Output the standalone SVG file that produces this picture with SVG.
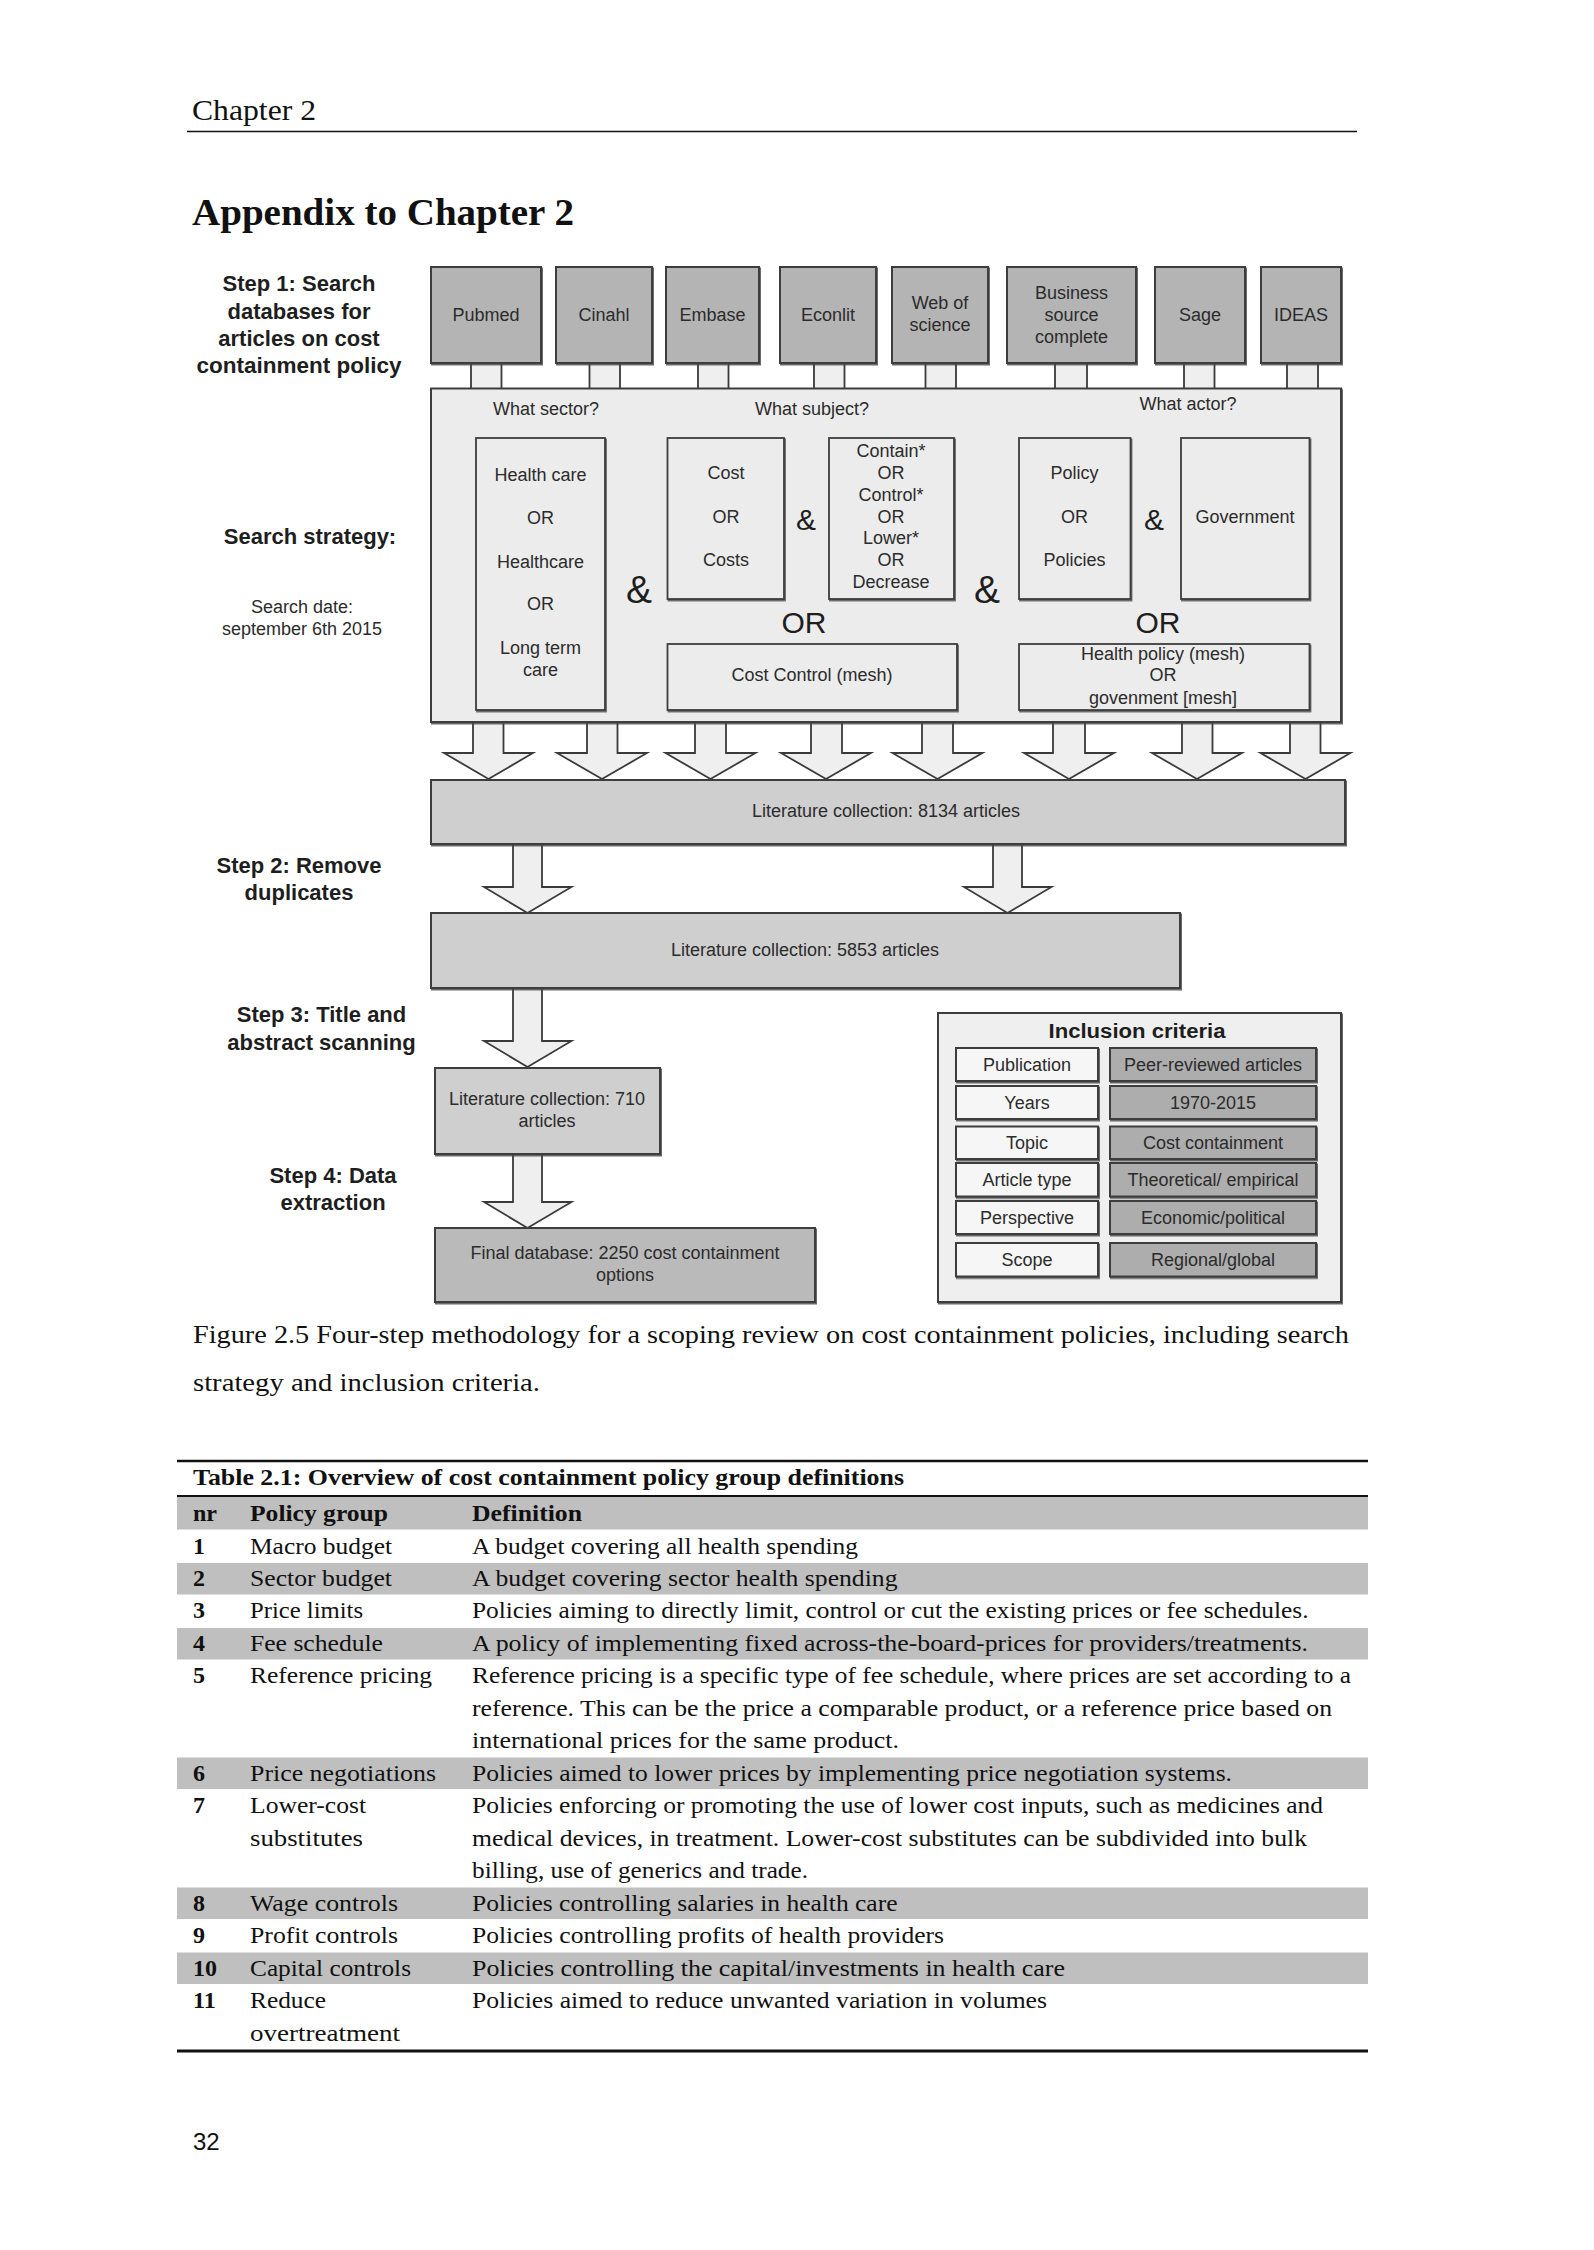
<svg xmlns="http://www.w3.org/2000/svg" width="1594" height="2250" viewBox="0 0 1594 2250">
<defs>
<filter id="sh" x="-5%" y="-5%" width="110%" height="115%">
<feDropShadow dx="1" dy="1.5" stdDeviation="0.6" flood-color="#444" flood-opacity="0.8"/>
</filter>
</defs>
<style>
.db{fill:#b4b4b4;stroke:#3e3e3e;stroke-width:2;filter:url(#sh)}
.pane{fill:#ececec;stroke:#3e3e3e;stroke-width:2;filter:url(#sh)}
.inner{fill:#ececec;stroke:#3e3e3e;stroke-width:1.8;filter:url(#sh)}
.lit{fill:#cfcfcf;stroke:#3e3e3e;stroke-width:2;filter:url(#sh)}
.final{fill:#bababa;stroke:#3e3e3e;stroke-width:2;filter:url(#sh)}
.incl{fill:#efefef;stroke:#3e3e3e;stroke-width:2;filter:url(#sh)}
.cl{fill:#f6f6f6;stroke:#3e3e3e;stroke-width:2;filter:url(#sh)}
.cr{fill:#adadad;stroke:#3e3e3e;stroke-width:2;filter:url(#sh)}
.arr{fill:#efefef;stroke:#3a3a3a;stroke-width:1.8;stroke-linejoin:miter}
.t{font-family:"Liberation Sans",Arial,sans-serif;font-size:18px;fill:#2b2b2b;text-anchor:middle}
.big{font-family:"Liberation Sans",Arial,sans-serif;fill:#1e1e1e;text-anchor:middle}
.lb{font-family:"Liberation Sans",Arial,sans-serif;font-size:22px;font-weight:bold;fill:#1e1e1e;text-anchor:middle}
.s{font-family:"Liberation Serif","Times New Roman",serif;fill:#111}
.tb{font-family:"Liberation Serif","Times New Roman",serif;font-size:24px;fill:#111}
.tbb{font-family:"Liberation Serif","Times New Roman",serif;font-size:24px;fill:#111;font-weight:bold}
.band{fill:#bfbfbf}
.rule{stroke:#111;fill:none}
</style>

<!-- page header -->
<text class="s" x="192" y="120" font-size="30" textLength="124" lengthAdjust="spacingAndGlyphs">Chapter 2</text>
<line class="rule" x1="187" y1="131.5" x2="1357" y2="131.5" stroke-width="1.6"/>
<text class="s" x="192" y="225" font-size="38" font-weight="bold" textLength="382" lengthAdjust="spacingAndGlyphs">Appendix to Chapter 2</text>

<!-- connectors -->
<g id="connectors">
<rect class="arr" x="471" y="360" width="30.5" height="30"/>
<rect class="arr" x="589.5" y="360" width="30.5" height="30"/>
<rect class="arr" x="698" y="360" width="30.5" height="30"/>
<rect class="arr" x="814" y="360" width="30.5" height="30"/>
<rect class="arr" x="925.5" y="360" width="30.5" height="30"/>
<rect class="arr" x="1055" y="360" width="32" height="30"/>
<rect class="arr" x="1184" y="360" width="30.5" height="30"/>
<rect class="arr" x="1287" y="360" width="31" height="30"/>

<polygon class="arr" points="473,718 473,753 444,753 488.5,779 533,753 503.5,753 503.5,718"/>
<polygon class="arr" points="587,718 587,753 557,753 602,779 647,753 617.5,753 617.5,718"/>
<polygon class="arr" points="695,718 695,753 665.5,753 710.5,779 755.5,753 726,753 726,718"/>
<polygon class="arr" points="811,718 811,753 781,753 826,779 871,753 842,753 842,718"/>
<polygon class="arr" points="922,718 922,753 892.5,753 937.5,779 982.5,753 953,753 953,718"/>
<polygon class="arr" points="1053,718 1053,753 1024,753 1069,779 1114,753 1085,753 1085,718"/>
<polygon class="arr" points="1182,718 1182,753 1152,753 1197,779 1242,753 1212.5,753 1212.5,718"/>
<polygon class="arr" points="1290,718 1290,753 1260.5,753 1305.5,779 1350.5,753 1320.5,753 1320.5,718"/>

<polygon class="arr" points="513,842 513,887 484,887 527.5,913 571.5,887 542,887 542,842"/>
<polygon class="arr" points="993,842 993,887 964,887 1007.5,913 1051.5,887 1022,887 1022,842"/>
<polygon class="arr" points="513,986 513,1041 484,1041 527.5,1067 571.5,1041 542,1041 542,986"/>
<polygon class="arr" points="513,1152 513,1202 484,1202 527.5,1228 571.5,1202 542,1202 542,1152"/>
</g>

<!-- step labels -->
<g id="labels">
<text class="lb" x="299" y="291">Step 1: Search</text>
<text class="lb" x="299" y="318.5">databases for</text>
<text class="lb" x="299" y="345.5">articles on cost</text>
<text class="lb" x="299" y="372.5" textLength="205" lengthAdjust="spacingAndGlyphs">containment policy</text>
<text class="lb" x="310" y="543.5">Search strategy:</text>
<text class="t" x="302" y="613">Search date:</text>
<text class="t" x="302" y="635">september 6th 2015</text>
<text class="lb" x="299" y="872.5">Step 2: Remove</text>
<text class="lb" x="299" y="899.5">duplicates</text>
<text class="lb" x="321.5" y="1022">Step 3: Title and</text>
<text class="lb" x="321.5" y="1049.5">abstract scanning</text>
<text class="lb" x="333" y="1183">Step 4: Data</text>
<text class="lb" x="333" y="1210">extraction</text>
</g>

<!-- database nodes -->
<g id="db-pubmed"><rect class="db" x="431" y="267" width="110" height="96"/><text class="t" x="486" y="321">Pubmed</text></g>
<g id="db-cinahl"><rect class="db" x="556" y="267" width="96" height="96"/><text class="t" x="604" y="321">Cinahl</text></g>
<g id="db-embase"><rect class="db" x="666" y="267" width="93" height="96"/><text class="t" x="712.5" y="321">Embase</text></g>
<g id="db-econlit"><rect class="db" x="780" y="267" width="96" height="96"/><text class="t" x="828" y="321">Econlit</text></g>
<g id="db-wos"><rect class="db" x="892" y="267" width="96" height="96"/><text class="t" x="940" y="309">Web of</text><text class="t" x="940" y="331">science</text></g>
<g id="db-business"><rect class="db" x="1007" y="267" width="129" height="96"/><text class="t" x="1071.5" y="298.5">Business</text><text class="t" x="1071.5" y="320.5">source</text><text class="t" x="1071.5" y="342.5">complete</text></g>
<g id="db-sage"><rect class="db" x="1155" y="267" width="90" height="96"/><text class="t" x="1200" y="321">Sage</text></g>
<g id="db-ideas"><rect class="db" x="1261" y="267" width="80" height="96"/><text class="t" x="1301" y="321">IDEAS</text></g>

<!-- search strategy -->
<g id="search-strategy">
<rect class="pane" x="431" y="388.5" width="910" height="333.5"/>
<text class="t" x="546" y="415">What sector?</text>
<text class="t" x="812" y="415">What subject?</text>
<text class="t" x="1188" y="410">What actor?</text>
<g id="sector-terms">
<rect class="inner" x="476" y="438" width="129" height="272"/>
<text class="t" x="540.5" y="481">Health care</text>
<text class="t" x="540.5" y="524">OR</text>
<text class="t" x="540.5" y="568">Healthcare</text>
<text class="t" x="540.5" y="610">OR</text>
<text class="t" x="540.5" y="654">Long term</text>
<text class="t" x="540.5" y="676">care</text>
</g>
<g id="cost-terms">
<rect class="inner" x="667.5" y="438" width="116.5" height="161"/>
<text class="t" x="726" y="479">Cost</text>
<text class="t" x="726" y="523">OR</text>
<text class="t" x="726" y="566">Costs</text>
</g>
<g id="contain-terms">
<rect class="inner" x="829" y="438" width="125" height="161"/>
<text class="t" x="891" y="457">Contain*</text>
<text class="t" x="891" y="479">OR</text>
<text class="t" x="891" y="501">Control*</text>
<text class="t" x="891" y="523">OR</text>
<text class="t" x="891" y="544">Lower*</text>
<text class="t" x="891" y="566">OR</text>
<text class="t" x="891" y="588">Decrease</text>
</g>
<g id="policy-terms">
<rect class="inner" x="1019" y="438" width="111.5" height="161"/>
<text class="t" x="1074.5" y="479">Policy</text>
<text class="t" x="1074.5" y="523">OR</text>
<text class="t" x="1074.5" y="566">Policies</text>
</g>
<g id="government-terms">
<rect class="inner" x="1181" y="438" width="128.5" height="161"/>
<text class="t" x="1245" y="523">Government</text>
</g>
<g id="cost-control-mesh">
<rect class="inner" x="667.5" y="644" width="289.5" height="66"/>
<text class="t" x="812" y="681">Cost Control (mesh)</text>
</g>
<g id="health-policy-mesh">
<rect class="inner" x="1019" y="644" width="290.5" height="66"/>
<text class="t" x="1163" y="660">Health policy (mesh)</text>
<text class="t" x="1163" y="681">OR</text>
<text class="t" x="1163" y="704">govenment [mesh]</text>
</g>
<text class="big" x="639" y="603" font-size="39">&amp;</text>
<text class="big" x="987" y="603" font-size="39">&amp;</text>
<text class="big" x="806" y="530" font-size="30">&amp;</text>
<text class="big" x="1154" y="530" font-size="30">&amp;</text>
<text class="big" x="804" y="633" font-size="30">OR</text>
<text class="big" x="1158" y="633" font-size="30">OR</text>
</g>

<!-- collections -->
<g id="lit-8134"><rect class="lit" x="431" y="780" width="914" height="64"/><text class="t" x="886" y="817">Literature collection: 8134 articles</text></g>
<g id="lit-5853"><rect class="lit" x="431" y="913" width="749" height="75"/><text class="t" x="805" y="956">Literature collection: 5853 articles</text></g>
<g id="lit-710"><rect class="lit" x="435" y="1068" width="225" height="86"/><text class="t" x="547" y="1105">Literature collection: 710</text><text class="t" x="547" y="1127">articles</text></g>
<g id="final-db"><rect class="final" x="435" y="1228" width="380" height="74"/><text class="t" x="625" y="1259">Final database: 2250 cost containment</text><text class="t" x="625" y="1281">options</text></g>

<!-- inclusion criteria -->
<g id="inclusion-criteria">
<rect class="incl" x="938" y="1013" width="403" height="289"/>
<text class="big" x="1137" y="1037.5" font-size="20" font-weight="bold" textLength="177" lengthAdjust="spacingAndGlyphs">Inclusion criteria</text>
<rect class="cl" x="956" y="1048" width="142" height="33"/><rect class="cr" x="1110" y="1048" width="206" height="33"/>
<text class="t" x="1027" y="1070.5">Publication</text><text class="t" x="1213" y="1070.5">Peer-reviewed articles</text>
<rect class="cl" x="956" y="1086" width="142" height="33"/><rect class="cr" x="1110" y="1086" width="206" height="33"/>
<text class="t" x="1027" y="1108.5">Years</text><text class="t" x="1213" y="1108.5">1970-2015</text>
<rect class="cl" x="956" y="1126.5" width="142" height="32.5"/><rect class="cr" x="1110" y="1126.5" width="206" height="32.5"/>
<text class="t" x="1027" y="1149">Topic</text><text class="t" x="1213" y="1149">Cost containment</text>
<rect class="cl" x="956" y="1163" width="142" height="33.5"/><rect class="cr" x="1110" y="1163" width="206" height="33.5"/>
<text class="t" x="1027" y="1186">Article type</text><text class="t" x="1213" y="1186">Theoretical/ empirical</text>
<rect class="cl" x="956" y="1201" width="142" height="33"/><rect class="cr" x="1110" y="1201" width="206" height="33"/>
<text class="t" x="1027" y="1223.5">Perspective</text><text class="t" x="1213" y="1223.5">Economic/political</text>
<rect class="cl" x="956" y="1243" width="142" height="33.5"/><rect class="cr" x="1110" y="1243" width="206" height="33.5"/>
<text class="t" x="1027" y="1266">Scope</text><text class="t" x="1213" y="1266">Regional/global</text>
</g>

<!-- caption -->
<text class="s" x="193" y="1342.5" font-size="26" textLength="1156" lengthAdjust="spacingAndGlyphs">Figure 2.5 Four-step methodology for a scoping review on cost containment policies, including search</text>
<text class="s" x="193" y="1390.5" font-size="26" textLength="347" lengthAdjust="spacingAndGlyphs">strategy and inclusion criteria.</text>

<!-- table -->
<g id="table">
<line class="rule" x1="177" y1="1461" x2="1368" y2="1461" stroke-width="2.6"/>
<text class="tbb" x="193" y="1485" textLength="711" lengthAdjust="spacingAndGlyphs">Table 2.1: Overview of cost containment policy group definitions</text>
<line class="rule" x1="177" y1="1496" x2="1368" y2="1496" stroke-width="2.2"/>
<rect class="band" x="177" y="1497" width="1191" height="32.5"/>
<rect class="band" x="177" y="1563" width="1191" height="31.5"/>
<rect class="band" x="177" y="1628" width="1191" height="31.5"/>
<rect class="band" x="177" y="1757.5" width="1191" height="31.5"/>
<rect class="band" x="177" y="1887.5" width="1191" height="31.5"/>
<rect class="band" x="177" y="1952.5" width="1191" height="31.5"/>

<text class="tbb" x="193" y="1521">nr</text>
<text class="tbb" x="250" y="1521" textLength="138" lengthAdjust="spacingAndGlyphs">Policy group</text>
<text class="tbb" x="472" y="1521" textLength="110" lengthAdjust="spacingAndGlyphs">Definition</text>

<text class="tbb" x="193" y="1553.5">1</text>
<text class="tb" x="250" y="1553.5" textLength="142" lengthAdjust="spacingAndGlyphs">Macro budget</text>
<text class="tb" x="472" y="1553.5" textLength="386" lengthAdjust="spacingAndGlyphs">A budget covering all health spending</text>

<text class="tbb" x="193" y="1586">2</text>
<text class="tb" x="250" y="1586" textLength="142" lengthAdjust="spacingAndGlyphs">Sector budget</text>
<text class="tb" x="472" y="1586" textLength="425.5" lengthAdjust="spacingAndGlyphs">A budget covering sector health spending</text>

<text class="tbb" x="193" y="1618.4">3</text>
<text class="tb" x="250" y="1618.4" textLength="113" lengthAdjust="spacingAndGlyphs">Price limits</text>
<text class="tb" x="472" y="1618.4" textLength="836.5" lengthAdjust="spacingAndGlyphs">Policies aiming to directly limit, control or cut the existing prices or fee schedules.</text>

<text class="tbb" x="193" y="1650.9">4</text>
<text class="tb" x="250" y="1650.9" textLength="133" lengthAdjust="spacingAndGlyphs">Fee schedule</text>
<text class="tb" x="472" y="1650.9" textLength="836" lengthAdjust="spacingAndGlyphs">A policy of implementing fixed across-the-board-prices for providers/treatments.</text>

<text class="tbb" x="193" y="1683.4">5</text>
<text class="tb" x="250" y="1683.4" textLength="182" lengthAdjust="spacingAndGlyphs">Reference pricing</text>
<text class="tb" x="472" y="1683.4" textLength="879" lengthAdjust="spacingAndGlyphs">Reference pricing is a specific type of fee schedule, where prices are set according to a</text>
<text class="tb" x="472" y="1715.9" textLength="860" lengthAdjust="spacingAndGlyphs">reference. This can be the price a comparable product, or a reference price based on</text>
<text class="tb" x="472" y="1748.3" textLength="427" lengthAdjust="spacingAndGlyphs">international prices for the same product.</text>

<text class="tbb" x="193" y="1780.8">6</text>
<text class="tb" x="250" y="1780.8" textLength="186" lengthAdjust="spacingAndGlyphs">Price negotiations</text>
<text class="tb" x="472" y="1780.8" textLength="760" lengthAdjust="spacingAndGlyphs">Policies aimed to lower prices by implementing price negotiation systems.</text>

<text class="tbb" x="193" y="1813.3">7</text>
<text class="tb" x="250" y="1813.3" textLength="116" lengthAdjust="spacingAndGlyphs">Lower-cost</text>
<text class="tb" x="250" y="1845.7" textLength="113" lengthAdjust="spacingAndGlyphs">substitutes</text>
<text class="tb" x="472" y="1813.3" textLength="851" lengthAdjust="spacingAndGlyphs">Policies enforcing or promoting the use of lower cost inputs, such as medicines and</text>
<text class="tb" x="472" y="1845.7" textLength="835" lengthAdjust="spacingAndGlyphs">medical devices, in treatment. Lower-cost substitutes can be subdivided into bulk</text>
<text class="tb" x="472" y="1878.2" textLength="336" lengthAdjust="spacingAndGlyphs">billing, use of generics and trade.</text>

<text class="tbb" x="193" y="1910.7">8</text>
<text class="tb" x="250" y="1910.7" textLength="148" lengthAdjust="spacingAndGlyphs">Wage controls</text>
<text class="tb" x="472" y="1910.7" textLength="425.5" lengthAdjust="spacingAndGlyphs">Policies controlling salaries in health care</text>

<text class="tbb" x="193" y="1943.1">9</text>
<text class="tb" x="250" y="1943.1" textLength="148" lengthAdjust="spacingAndGlyphs">Profit controls</text>
<text class="tb" x="472" y="1943.1" textLength="472" lengthAdjust="spacingAndGlyphs">Policies controlling profits of health providers</text>

<text class="tbb" x="193" y="1975.6">10</text>
<text class="tb" x="250" y="1975.6" textLength="161" lengthAdjust="spacingAndGlyphs">Capital controls</text>
<text class="tb" x="472" y="1975.6" textLength="593" lengthAdjust="spacingAndGlyphs">Policies controlling the capital/investments in health care</text>

<text class="tbb" x="193" y="2008.1">11</text>
<text class="tb" x="250" y="2008.1" textLength="76" lengthAdjust="spacingAndGlyphs">Reduce</text>
<text class="tb" x="250" y="2040.6" textLength="150" lengthAdjust="spacingAndGlyphs">overtreatment</text>
<text class="tb" x="472" y="2008.1" textLength="575" lengthAdjust="spacingAndGlyphs">Policies aimed to reduce unwanted variation in volumes</text>

<line class="rule" x1="177" y1="2051" x2="1368" y2="2051" stroke-width="2.8"/>
</g>

<text x="193" y="2150" font-family="Liberation Sans, Arial, sans-serif" font-size="24" fill="#111">32</text>
</svg>
